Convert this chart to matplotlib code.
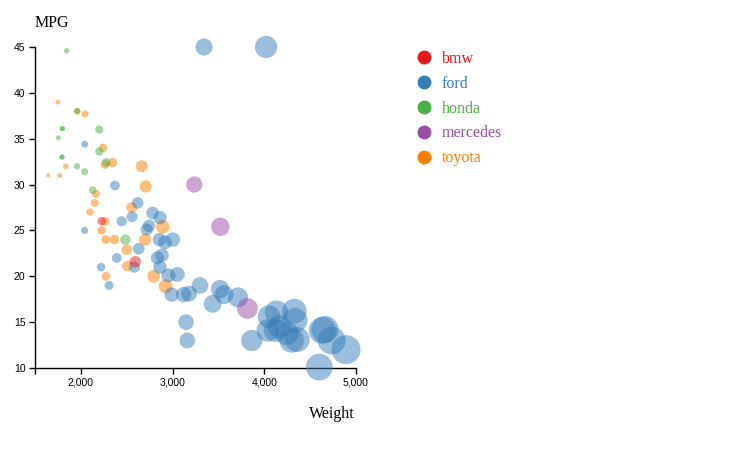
import matplotlib
matplotlib.use("Agg")
import matplotlib.pyplot as plt
from matplotlib.lines import Line2D
import numpy as np

# ---- data ----
brands = ["bmw", "ford", "honda", "mercedes", "toyota"]
colors = {"bmw": "#e41a1c", "ford": "#377eb8", "honda": "#4daf4a",
          "mercedes": "#984ea3", "toyota": "#ff7f00"}

bmw_weight = [2227, 2594]
bmw_mpg = [26.0, 21.6]

ford_weight = [3343, 4019, 2042, 2372, 2445, 2620, 2558, 2042, 2783, 2863,
               2743, 2718, 2856, 3002, 2918, 2631, 2391, 2834, 2885, 2583,
               2220, 2863, 2954, 3052, 2307, 2990, 3122, 3179, 3299, 3438,
               3517, 3561, 3714, 3147, 3161, 3863, 4052, 4132, 4328, 4335,
               4037, 4121, 4164, 4245, 4299, 4360, 4633, 4662, 4735, 4891,
               4600]
ford_mpg = [45.0, 45.0, 34.4, 29.9, 26.0, 28.0, 26.5, 25.0, 26.9, 26.4,
            25.5, 25.1, 24.0, 24.0, 23.7, 23.0, 22.0, 22.0, 22.3, 21.0,
            21.0, 21.0, 20.1, 20.2, 19.0, 18.0, 18.0, 18.1, 19.0, 17.0,
            18.6, 18.0, 17.7, 15.0, 13.0, 13.0, 15.6, 16.1, 16.2, 15.2,
            14.1, 14.1, 14.5, 13.8, 13.0, 13.1, 14.1, 14.2, 13.0, 12.0,
            10.1]

honda_weight = [1846, 1961, 1798, 1798, 2201, 1754, 2201, 2278, 1794, 1794,
                1958, 2042, 2129, 2485]
honda_mpg = [44.6, 38.0, 36.1, 36.1, 36.0, 35.1, 33.6, 32.4, 33.0, 33.0,
             32.0, 31.4, 29.4, 24.0]

mercedes_weight = [3237, 3521, 3816]
mercedes_mpg = [30.0, 25.4, 16.5]

toyota_weight = [1751, 1961, 2045, 2241, 2263, 2347, 1835, 1645, 1769, 2165,
                 2151, 2100, 2267, 2227, 2554, 2892, 2271, 2365, 2700, 2500,
                 2507, 2274, 2794, 2925, 2663, 2707]
toyota_mpg = [39.0, 38.0, 37.7, 34.0, 32.2, 32.4, 32.0, 31.0, 31.0, 29.0,
              28.0, 27.0, 26.0, 25.0, 27.5, 25.4, 24.0, 24.0, 24.0, 22.9,
              21.1, 20.0, 20.0, 18.9, 32.0, 29.8]

series = {
    "bmw": (bmw_weight, bmw_mpg),
    "ford": (ford_weight, ford_mpg),
    "honda": (honda_weight, honda_mpg),
    "mercedes": (mercedes_weight, mercedes_mpg),
    "toyota": (toyota_weight, toyota_mpg),
}

x_ticks = [1500, 2000, 3000, 4000, 5000]
x_tick_labels = ["", "2,000", "3,000", "4,000", "5,000"]
y_ticks = [10, 15, 20, 25, 30, 35, 40, 45]

# ---- figure ----
W, H, DPI = 744, 475, 100
fig = plt.figure(figsize=(W / DPI, H / DPI), dpi=DPI)
L, R, T, B = 35, 356, 47, 368
ax = fig.add_axes([L / W, (H - B) / H, (R - L) / W, (B - T) / H])

def radius_px(w):
    return 2.0 + (np.asarray(w) - 1645) * 0.00385

for b in ["toyota", "honda", "ford", "mercedes", "bmw"]:
    wts, mpg = series[b]
    r = radius_px(wts) * 72 / DPI  # points
    ax.scatter(wts, mpg, s=(2 * r) ** 2, color=colors[b], alpha=0.5,
               linewidths=0, clip_on=False, zorder=3)

ax.set_xlim(1500, 5000)
ax.set_ylim(10, 45)
for s in ["top", "right"]:
    ax.spines[s].set_visible(False)
for s in ["left", "bottom"]:
    ax.spines[s].set_linewidth(1.0)
    ax.spines[s].set_color("black")

ax.set_xticks(x_ticks)
ax.set_xticklabels(x_tick_labels)
ax.set_yticks(y_ticks)
ax.set_yticklabels([str(v) for v in y_ticks])
ax.tick_params(axis="both", direction="out", length=4.3, width=1.0,
               labelsize=7.5, pad=2.5, colors="black")
for lab in ax.get_xticklabels() + ax.get_yticklabels():
    lab.set_fontfamily("Liberation Sans")
ax.tick_params(axis="x", pad=2.5)

serif = "Liberation Serif"
fig.text(35 / W, 1 - 27 / H, "MPG", fontsize=11.5, family=serif,
         ha="left", va="baseline")
fig.text(355 / W, 1 - 418 / H, "Weight", fontsize=11.5, family=serif,
         ha="right", va="baseline")

handles = [Line2D([], [], marker="o", linestyle="none", markersize=10,
                  markerfacecolor=colors[b], markeredgewidth=0)
           for b in brands]
leg = ax.legend(handles, brands, loc="upper left",
                bbox_to_anchor=(414 / W, 1 - 51 / H),
                bbox_transform=fig.transFigure, frameon=False,
                prop={"family": serif, "size": 11.5},
                labelcolor=[colors[b] for b in brands],
                handletextpad=0.55, labelspacing=0.55, handlelength=1.2,
                borderpad=0, borderaxespad=0)

fig.savefig("out.png", dpi=DPI)
